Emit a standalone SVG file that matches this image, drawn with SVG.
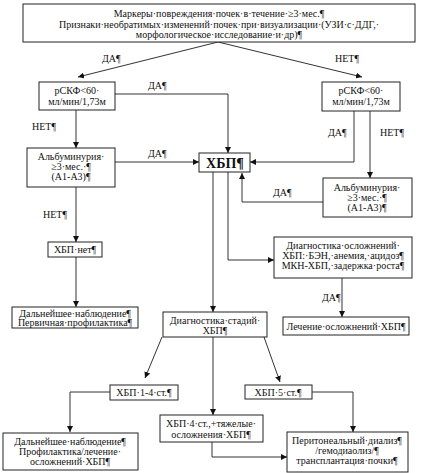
<svg xmlns="http://www.w3.org/2000/svg" width="421" height="473" viewBox="0 0 421 473">
<defs>
<marker id="arr" markerWidth="6" markerHeight="6" refX="6" refY="3" orient="auto" markerUnits="userSpaceOnUse">
<path d="M0,0 L6,3 L0,6 Z" fill="#111"/>
</marker>
<style>
rect.box{fill:#fff;stroke:#222;stroke-width:1}
text{font-family:"Liberation Serif","Times New Roman",serif;font-size:10px;fill:#111;text-anchor:middle}
text.lbl{text-anchor:start}
text.big{font-size:14px;font-weight:bold}
.c{fill:none;stroke:#333;stroke-width:1;marker-end:url(#arr)}
.n{fill:none;stroke:#333;stroke-width:1}
</style>
</defs>
<rect width="421" height="473" fill="#fff"/>

<g id="connectors">
<path class="c" d="M218,42 L78,77"/>
<path class="c" d="M218,42 L362,77"/>
<path class="c" d="M115,94 L228,94 L228,153"/>
<path class="c" d="M76,110 L76,148"/>
<path class="c" d="M115,162 L199,162"/>
<path class="c" d="M76,187 L76,242"/>
<path class="c" d="M76,257 L76,307"/>
<path class="c" d="M354,111 L354,162 L250,162"/>
<path class="c" d="M370,111 L370,178"/>
<path class="c" d="M323,202 L242,202 L242,173"/>
<path class="c" d="M228,172 L228,260 L274,260"/>
<path class="c" d="M342,278 L342,317"/>
<path class="c" d="M213,172 L213,312"/>
<path class="c" d="M162,337 L145,378"/>
<path class="c" d="M213,337 L213,415"/>
<path class="c" d="M264,337 L280,382"/>
<path class="c" d="M110,392 L70,392 L70,432"/>
<path class="c" d="M212,442 L212,457 L287,457"/>
<path class="c" d="M312,392 L353,392 L353,432"/>
<text class="lbl" x="102" y="62">ДА¶</text>
<text class="lbl" x="335" y="62">НЕТ¶</text>
<text class="lbl" x="148" y="89">ДА¶</text>
<text class="lbl" x="32" y="130">НЕТ¶</text>
<text class="lbl" x="148" y="157">ДА¶</text>
<text class="lbl" x="328" y="136">ДА¶</text>
<text class="lbl" x="380" y="136">НЕТ¶</text>
<text class="lbl" x="273" y="196">ДА¶</text>
<text class="lbl" x="43" y="218">НЕТ¶</text>
<text class="lbl" x="322" y="301">ДА¶</text>
</g>

<g id="markers">
<rect class="box" x="23" y="4" width="392" height="38"/>
<text x="219" y="17">Маркеры·повреждения·почек·в·течение·≥3·мес.¶</text>
<text x="219" y="27.5">Признаки·необратимых·изменений·почек·при·визуализации·(УЗИ·с·ДДГ,·</text>
<text x="219" y="38">морфологическое·исследование·и·др)¶</text>
</g>

<g id="gfr-left">
<rect class="box" x="39" y="82" width="76" height="28"/>
<text x="77" y="93.5">рСКФ&lt;60·</text>
<text x="77" y="104.5">мл/мин/1,73м</text>
</g>

<g id="gfr-right">
<rect class="box" x="322" y="82" width="78" height="29"/>
<text x="361" y="93.5">рСКФ&lt;60·</text>
<text x="361" y="104.5">мл/мин/1,73м</text>
</g>

<g id="alb-left">
<rect class="box" x="27" y="148" width="88" height="39"/>
<text x="71" y="160">Альбуминурия·</text>
<text x="71" y="170">≥3·мес.·¶</text>
<text x="71" y="180">(А1-А3)¶</text>
</g>

<g id="alb-right">
<rect class="box" x="323" y="178" width="89" height="39"/>
<text x="367" y="191">Альбуминурия·</text>
<text x="367" y="201">≥3·мес.·¶</text>
<text x="367" y="211">(А1-А3)¶</text>
</g>

<g id="ckd">
<rect class="box" x="199" y="153" width="51" height="19"/>
<text class="big" x="225" y="167.5">ХБП¶</text>
</g>

<g id="no-ckd">
<rect class="box" x="48" y="242" width="54" height="15"/>
<text x="75" y="253">ХБП·нет¶</text>
</g>

<g id="followup-1">
<rect class="box" x="12" y="307" width="126" height="21"/>
<text x="75" y="316.5">Дальнейшее·наблюдение¶</text>
<text x="75" y="326">Первичная·профилактика¶</text>
</g>

<g id="complications-dx">
<rect class="box" x="274" y="237" width="138" height="41"/>
<text x="343" y="248.5">Диагностика·осложнений·</text>
<text x="343" y="258.5">ХБП:·БЭН,·анемия,·ацидоз¶</text>
<text x="343" y="268.5">МКН-ХБП,·задержка·роста¶</text>
</g>

<g id="complications-tx">
<rect class="box" x="283" y="317" width="126" height="18"/>
<text x="346" y="329.5">Лечение·осложнений·ХБП¶</text>
</g>

<g id="staging">
<rect class="box" x="163" y="312" width="104" height="25"/>
<text x="215" y="324">Диагностика·стадий·</text>
<text x="215" y="334">ХБП¶</text>
</g>

<g id="ckd-1-4">
<rect class="box" x="110" y="385" width="68" height="15"/>
<text x="144" y="396">ХБП·1-4·ст.¶</text>
</g>

<g id="ckd-5">
<rect class="box" x="245" y="385" width="67" height="14"/>
<text x="278" y="395.5">ХБП·5·ст.¶</text>
</g>

<g id="ckd-4-severe">
<rect class="box" x="160" y="415" width="103" height="27"/>
<text x="211" y="427">ХБП·4·ст.,+тяжелые·</text>
<text x="211" y="437.5">осложнения·ХБП¶</text>
</g>

<g id="followup-2">
<rect class="box" x="3" y="433" width="135" height="37"/>
<text x="70" y="445">Дальнейшее·наблюдение¶</text>
<text x="70" y="455">Профилактика/лечение·</text>
<text x="70" y="465">осложнений·ХБП¶</text>
</g>

<g id="rrt">
<rect class="box" x="287" y="432" width="121" height="40"/>
<text x="347" y="443.5">Перитонеальный·диализ¶</text>
<text x="347" y="453.5">/гемодиаолиз/¶</text>
<text x="347" y="464">трансплантация·почки¶</text>
</g>
</svg>
